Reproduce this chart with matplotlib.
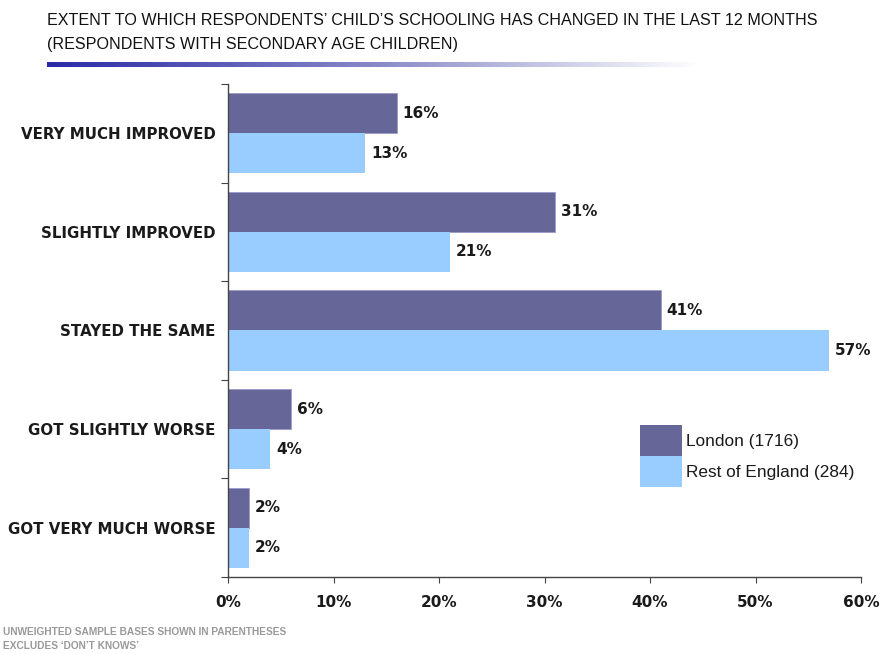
import matplotlib
matplotlib.use("Agg")
import matplotlib.pyplot as plt
import numpy as np
from matplotlib.patches import Patch
from matplotlib.colors import LinearSegmentedColormap

categories = ["VERY MUCH IMPROVED", "SLIGHTLY IMPROVED", "STAYED THE SAME",
              "GOT SLIGHTLY WORSE", "GOT VERY MUCH WORSE"]
london = [16, 31, 41, 6, 2]
rest_of_england = [13, 21, 57, 4, 2]
series_labels = ["London (1716)", "Rest of England (284)"]
xticks = [0, 10, 20, 30, 40, 50, 60]
xtick_labels = ["0%", "10%", "20%", "30%", "40%", "50%", "60%"]

title_lines = ["EXTENT TO WHICH RESPONDENTS\u2019 CHILD\u2019S SCHOOLING HAS CHANGED IN THE LAST 12 MONTHS",
               "(RESPONDENTS WITH SECONDARY AGE CHILDREN)"]
foot_lines = ["UNWEIGHTED SAMPLE BASES SHOWN IN PARENTHESES",
              "EXCLUDES \u2018DON\u2019T KNOWS\u2019"]

W, H = 881, 654
fig = plt.figure(figsize=(W / 100, H / 100), dpi=100)
fig.patch.set_facecolor("white")

def fx(px):
    return px / W

def fy(py):
    return 1 - py / H

ax = fig.add_axes([fx(228), fy(577), fx(861) - fx(228), fy(84) - fy(577)])

c_london = "#666699"
c_rest = "#99CCFF"
bh = 0.406
y = np.arange(len(categories))
ax.barh(y - bh / 2, london, height=bh, color=c_london, edgecolor="#9999cc", linewidth=0.6)
ax.barh(y + bh / 2, rest_of_england, height=bh, color=c_rest, edgecolor="none")

lab_font = dict(family="DejaVu Sans", weight="bold", size=11, color="#1a1a1a")
for i, v in enumerate(london):
    ax.text(v + 0.55, i - bh / 2, f"{v}%", va="center", ha="left", **lab_font)
for i, v in enumerate(rest_of_england):
    ax.text(v + 0.55, i + bh / 2, f"{v}%", va="center", ha="left", **lab_font)

ax.set_xlim(0, 60)
ax.set_ylim(len(categories) - 0.5, -0.5)
ax.set_xticks(xticks)
ax.set_xticklabels(xtick_labels, fontfamily="DejaVu Sans", fontweight="bold", fontsize=11, color="#1a1a1a")
ax.tick_params(axis="x", direction="out", length=4, pad=9, color="#444444")

ax.set_yticks(np.arange(len(categories) + 1) - 0.5)
ax.set_yticklabels([])
ax.set_yticks(y, minor=True)
ax.set_yticklabels(categories, minor=True, fontfamily="DejaVu Sans", fontweight="bold", fontsize=10.8, color="#1a1a1a")
ax.tick_params(axis="y", which="major", direction="out", length=5, color="#444444")
ax.tick_params(axis="y", which="minor", length=0, pad=9)

for s in ["top", "right"]:
    ax.spines[s].set_visible(False)
for s in ["left", "bottom"]:
    ax.spines[s].set_color("#444444")
    ax.spines[s].set_linewidth(1.0)

handles = [Patch(facecolor=c_london, edgecolor="none"), Patch(facecolor=c_rest, edgecolor="none")]
leg = fig.legend(handles, series_labels, loc="upper left",
                 bbox_to_anchor=(fx(640), fy(425)), frameon=False,
                 prop=dict(family="Liberation Sans", size=12.4),
                 handlelength=2.44, handleheight=2.4, handletextpad=0.22,
                 labelspacing=0.0, borderpad=0, borderaxespad=0)
for t in leg.get_texts():
    t.set_color("#1a1a1a")

# Title
renderer = fig.canvas.get_renderer()
t1 = fig.text(fx(47), fy(25), title_lines[0], family="Liberation Sans",
              size=12, color="#111111", ha="left", va="baseline")
w = t1.get_window_extent(renderer).width
t1.set_fontsize(12 * 768 / w)
fs = t1.get_fontsize()
fig.text(fx(47), fy(49), title_lines[1], family="Liberation Sans",
         size=fs, color="#111111", ha="left", va="baseline")

# Gradient line under title
gax = fig.add_axes([fx(47), fy(67), fx(700) - fx(47), fy(62) - fy(67)])
grad = np.linspace(0, 1, 256)
cmap = LinearSegmentedColormap.from_list("g", ["#2a2aa8", "#8888c8", "#ffffff"])
gax.imshow(grad[np.newaxis, :], aspect="auto", cmap=cmap, extent=[0, 1, 0, 1])
gax.axis("off")

# Footnotes
fig.text(fx(3), fy(635), foot_lines[0], family="Liberation Sans",
         weight="bold", size=7.3, color="#999999", ha="left", va="baseline")
fig.text(fx(3), fy(649), foot_lines[1], family="Liberation Sans",
         weight="bold", size=7.3, color="#999999", ha="left", va="baseline")

fig.savefig("out.png", dpi=100, facecolor="white")
